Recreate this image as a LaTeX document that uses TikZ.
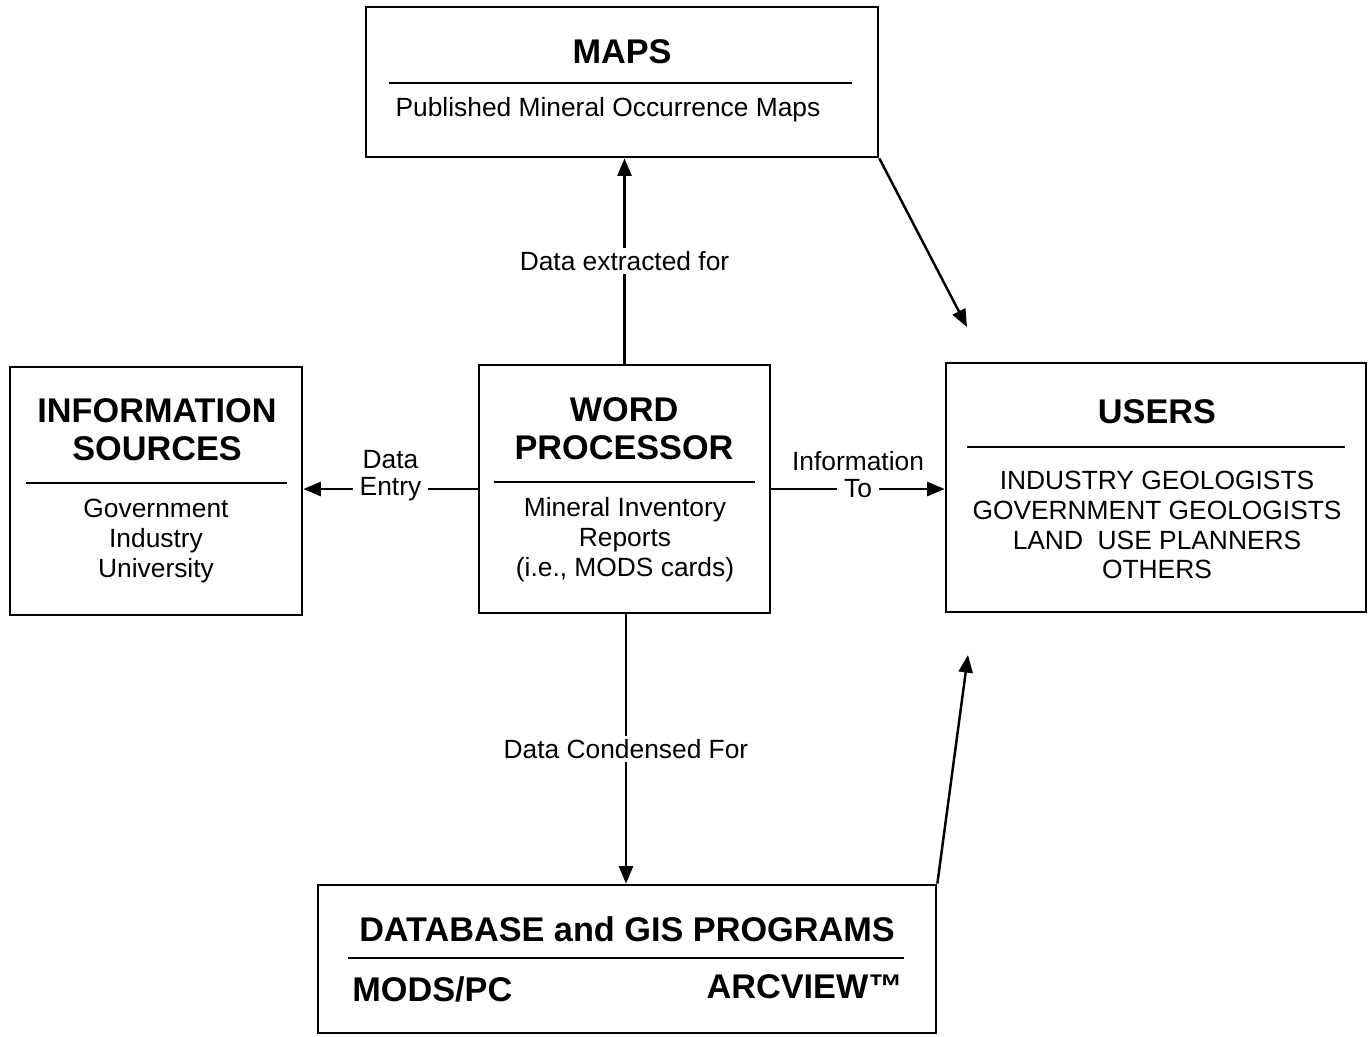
\documentclass[tikz,border=0pt]{standalone}
\usepackage{fontspec}
\setmainfont{Liberation Sans}
\usetikzlibrary{positioning,arrows.meta}
\tikzset{>={Triangle[length=10pt,width=8pt]}}

\begin{document}
\begin{tikzpicture}[
        x=0.02cm, y=-0.02cm,
        box/.style={
            draw,
            line width=1.6pt,
            inner sep=0pt,
          },
        title/.style={
            font=\fontsize{19.5}{21.6}\selectfont\bfseries,
            align=center,
            inner sep=0pt,
          },
        body/.style={
            font=\fontsize{15}{17}\selectfont,
            align=center,
            inner sep=0pt,
          },
        rule/.style={line width=1.6pt},
        link/.style={line width=1.4pt},
        tag/.style={
            font=\fontsize{15}{17}\selectfont,
            align=center,
            fill=white,
            inner ysep=2pt,
            inner xsep=4pt,
          },
      ]
      \useasboundingbox (0,0) rectangle (1369,1036);

      % boxes
      \node [
        box,
        minimum width=10.24cm,
        minimum height=3cm
      ] (maps) at (622,82) {};
      \node [
        box,
        minimum width=5.84cm,
        minimum height=4.96cm
      ] (info) at (156,491) {};
      \node [
        box,
        minimum width=5.82cm,
        minimum height=4.96cm
      ] (word) at (624.5,489) {};
      \node [
        box,
        minimum width=8.4cm,
        minimum height=4.98cm
      ] (users) at (1156,487.5) {};
      \node [
        box,
        minimum width=12.36cm,
        minimum height=2.96cm
      ] (db) at (627,959) {};

      % box contents
      \node [title] (mapstitle) at (622,52) {MAPS};
      \draw [rule] (389,83) -- (852,83);
      \node [body] (mapstext) at (608,110) {Published Mineral Occurrence Maps};

      \node [title] (infotitle) at (157,430) {INFORMATION\\ SOURCES};
      \draw [rule] (26,483) -- (287,483);
      \node [body] (infotext) at (156,541) {Government\\ Industry\\ University};

      \node [title] (wordtitle) at (624,429) {WORD\\ PROCESSOR};
      \draw [rule] (494,482) -- (755,482);
      \node [body] (wordtext) at (625,540) {Mineral Inventory\\ Reports\\ (i.e., MODS cards)};

      \node [title] (userstitle) at (1157,412) {USERS};
      \draw [rule] (967,447) -- (1345,447);
      \node [body] (userstext) at (1157,525) {INDUSTRY GEOLOGISTS\\ GOVERNMENT GEOLOGISTS\\ LAND\ \ USE PLANNERS\\ OTHERS};

      \node [title] (dbtitle) at (627,929) {DATABASE and GIS PROGRAMS};
      \draw [rule] (348,958) -- (904,958);
      \node [
        title,
        anchor=west
      ] (mods) at (352,989) {MODS/PC};
      \node [
        title,
        anchor=east
      ] (arcview) at (903,987) {ARCVIEW™};

      % free arrow ends near users
      \coordinate (usersin) at (967,327);
      \coordinate (usersbelow) at (968,655);

      % connectors
      \draw [link,->] (word.north) -- (word.north |- maps.south)
        node [tag, pos=0.5] (extract) {Data extracted for};
      \draw [link,->] (word.west) -- (word.west -| info.east)
        node [tag, pos=0.5] (entry) {Entry};
      \node [body, above=2pt of entry] (entrydata) {Data};
      \draw [link,->] (word.east) -- (word.east -| users.west)
        node [tag, pos=0.5] (to) {To};
      \node [body, above=2pt of to] (toinfo) {Information};
      \draw [link,->] ([xshift=0.03cm]word.south) -- ([xshift=0.03cm]word.south |- db.north)
        node [tag, pos=0.5] (condense) {Data Condensed For};
      \draw [link,->] (maps.south east) -- (usersin);
      \draw [link,->] (db.north east) -- (usersbelow);
    \end{tikzpicture}
\end{document}
